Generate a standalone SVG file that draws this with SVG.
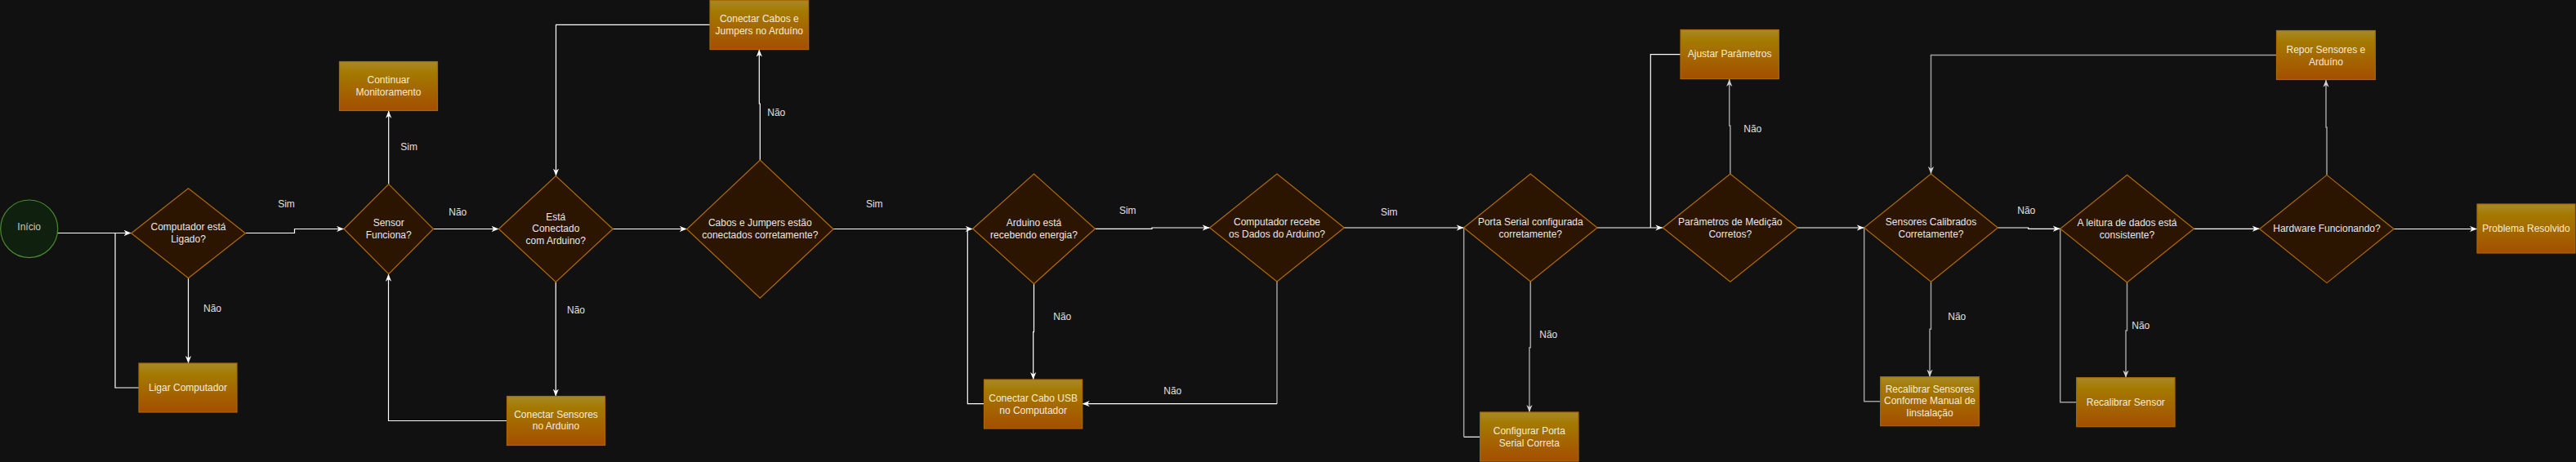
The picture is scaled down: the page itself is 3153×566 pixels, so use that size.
<svg xmlns="http://www.w3.org/2000/svg" width="3153" height="566" viewBox="0 0 3153 566">
<style>
text{font-family:"Liberation Sans",Arial,Helvetica,sans-serif;font-size:12px;text-anchor:middle}
.dt{fill:#e8e8e8}
.rt{fill:#f6ecd6}
.lb{fill:#e0e0e0}
.dm{fill:#2b1400;stroke:#b36b00;stroke-width:1.2}
.bx{fill:url(#g);stroke:#a86a00;stroke-width:1.2}
.w{fill:none;stroke:#ffffff;stroke-width:1.2}
.gr{fill:none;stroke:#a0a0a0;stroke-width:1.5}
.aw{marker-end:url(#aw)}
.ag{marker-end:url(#ag)}
</style>
<defs>
<linearGradient id="g" x1="0" y1="0" x2="0" y2="1">
<stop offset="0" stop-color="#a8892a"/>
<stop offset="0.22" stop-color="#a47a00"/>
<stop offset="1" stop-color="#a44e00"/>
</linearGradient>
<marker id="aw" viewBox="0 0 10 8" refX="10" refY="4" markerWidth="9" markerHeight="8" markerUnits="userSpaceOnUse" orient="auto">
<path d="M0,0 L10,4 L0,8 L3,4 Z" fill="#ffffff"/>
</marker>
<marker id="ag" viewBox="0 0 10 8" refX="10" refY="4" markerWidth="9" markerHeight="8" markerUnits="userSpaceOnUse" orient="auto">
<path d="M0,0 L10,4 L0,8 L3,4 Z" fill="#d0d0d0"/>
</marker>
</defs>
<rect x="0" y="0" width="3153" height="566" fill="#111111"/>

<g id="connectors">
<path class="w aw" d="M60,285.5 H160.5"/>
<path class="w aw" d="M230.5,340.7 V445"/>
<path class="w" d="M170,475 H141 V285.5"/>
<path class="w aw" d="M300.4,285.5 H360.5 V280.5 H421"/>
<path class="w aw" d="M475.7,225.5 V135.7"/>
<path class="w aw" d="M530.4,280.5 H610.5"/>
<path class="w aw" d="M680.3,345.5 V485.5"/>
<path class="w aw" d="M620.5,515.5 H475.5 V335.7"/>
<path class="w aw" d="M750.1,280.5 H840.7"/>
<path class="w aw" d="M930.3,196 V127 H929.3 V60.6"/>
<path class="w aw" d="M869,30.3 H680.5 V215.5"/>
<path class="w aw" d="M1020,280.5 H1190.7"/>
<path class="w" d="M1204.5,494.7 H1184.3 V280.5"/>
<path class="w aw" d="M1340.3,280.3 H1410 V279 H1480.7"/>
<path class="w aw" d="M1265.5,347.7 V406.7 H1264.7 V465"/>
<path class="gr" d="M1563,345 V494.7"/>
<path class="w aw" d="M1563,494.7 H1324.7"/>
<path class="w aw" d="M1645.3,279 H1791.7"/>
<path class="gr ag" d="M1873.3,345 V425.7 H1872 V505"/>
<path class="w" d="M1811.7,535.3 H1791.7"/>
<path class="gr ag" d="M1791.7,535.3 V279 H1791.5"/>
<path class="w aw" d="M1955,279 H2035.3"/>
<path class="gr ag" d="M2117.8,213 V154 H2116.7 V97"/>
<path class="w" d="M2057,66.7 H2020.3 V279"/>
<path class="w aw" d="M2200.3,279 H2281.7"/>
<path class="gr ag" d="M2363.5,345.3 V403.3 H2362 V461.7"/>
<path class="gr ag" d="M2301.7,491.7 H2281.7 V279 H2281.5"/>
<path class="w aw" d="M2445.3,279 H2482.7 V280.3 H2521.7"/>
<path class="gr ag" d="M2603.5,346 V405 H2602 V462.7"/>
<path class="gr ag" d="M2541.7,492.7 H2521.7 V280.3 H2521.5"/>
<path class="w aw" d="M2685.3,280.3 H2765.7"/>
<path class="gr ag" d="M2848,214.4 V156 H2847 V97.8"/>
<path class="gr ag" d="M2786.3,67.5 H2363.5 V213"/>
<path class="w aw" d="M2930,280.5 H3032"/>
<text class="lb" x="260" y="382">Não</text>
<text class="lb" x="350.5" y="253.5">Sim</text>
<text class="lb" x="500.6" y="183.5">Sim</text>
<text class="lb" x="560.3" y="263.5">Não</text>
<text class="lb" x="705" y="383.5">Não</text>
<text class="lb" x="950.3" y="141.5">Não</text>
<text class="lb" x="1070.3" y="253.5">Sim</text>
<text class="lb" x="1380.3" y="261.7">Sim</text>
<text class="lb" x="1300.3" y="391.7">Não</text>
<text class="lb" x="1435.3" y="483.3">Não</text>
<text class="lb" x="1700.3" y="263.7">Sim</text>
<text class="lb" x="1895.3" y="413.7">Não</text>
<text class="lb" x="2145.3" y="161.7">Não</text>
<text class="lb" x="2395.3" y="391.7">Não</text>
<text class="lb" x="2480.3" y="261.7">Não</text>
<text class="lb" x="2620.3" y="402.7">Não</text>
</g>

<g id="inicio">
<ellipse cx="35.7" cy="280.3" rx="35" ry="35.3" fill="#0f200f" stroke="#4c8a2c" stroke-width="1.2"/>
<text x="35.7" y="282" fill="#c8c8c8">Início</text>
</g>
<g id="computador-ligado">
<polygon class="dm" points="160.7,285.7 230.5,230.7 300.4,285.7 230.5,340.7"/>
<text class="dt" x="230.5" y="282">Computador está</text>
<text class="dt" x="230.5" y="297">Ligado?</text>
</g>
<g id="ligar-computador">
<rect class="bx" x="170" y="445" width="120" height="60"/>
<text class="rt" x="230" y="479">Ligar Computador</text>
</g>
<g id="sensor-funciona">
<polygon class="dm" points="421,280.5 475.7,225.5 530.4,280.5 475.7,335.7"/>
<text class="dt" x="475.7" y="277">Sensor</text>
<text class="dt" x="475.7" y="292">Funciona?</text>
</g>
<g id="continuar-monitoramento">
<rect class="bx" x="415.5" y="75.5" width="120" height="60"/>
<text class="rt" x="475.5" y="102">Continuar</text>
<text class="rt" x="475.5" y="117">Monitoramento</text>
</g>
<g id="esta-conectado">
<polygon class="dm" points="610.5,280.5 680.3,215.5 750.1,280.5 680.3,345.5"/>
<text class="dt" x="680.3" y="269.5">Está</text>
<text class="dt" x="680.3" y="284">Conectado</text>
<text class="dt" x="680.3" y="298.5">com Arduino?</text>
</g>
<g id="conectar-sensores">
<rect class="bx" x="620.5" y="485.5" width="120" height="60"/>
<text class="rt" x="680.5" y="511.6">Conectar Sensores</text>
<text class="rt" x="680.5" y="526.4">no Arduino</text>
</g>
<g id="cabos-jumpers">
<polygon class="dm" points="840.7,280.7 930.3,196 1020,280.7 930.3,365.3"/>
<text class="dt" x="930.3" y="277">Cabos e Jumpers estão</text>
<text class="dt" x="930.3" y="292">conectados corretamente?</text>
</g>
<g id="conectar-cabos">
<rect class="bx" x="869" y="0.5" width="120.7" height="60"/>
<text class="rt" x="929.3" y="26.5">Conectar Cabos e</text>
<text class="rt" x="929.3" y="41.5">Jumpers no Arduíno</text>
</g>
<g id="arduino-energia">
<polygon class="dm" points="1190.7,280.3 1265.5,213 1340.3,280.3 1265.5,347.7"/>
<text class="dt" x="1265.5" y="277">Arduino está</text>
<text class="dt" x="1265.5" y="292">recebendo energia?</text>
</g>
<g id="conectar-usb">
<rect class="bx" x="1204.5" y="465" width="120.2" height="60"/>
<text class="rt" x="1264.6" y="491.5">Conectar Cabo USB</text>
<text class="rt" x="1264.6" y="506.5">no Computador</text>
</g>
<g id="computador-recebe">
<polygon class="dm" points="1480.7,279 1563,213 1645.3,279 1563,345"/>
<text class="dt" x="1563" y="276">Computador recebe</text>
<text class="dt" x="1563" y="291">os Dados do Arduino?</text>
</g>
<g id="porta-serial">
<polygon class="dm" points="1791.7,279 1873.3,213 1955,279 1873.3,345"/>
<text class="dt" x="1873.3" y="276">Porta Serial configurada</text>
<text class="dt" x="1873.3" y="291">corretamente?</text>
</g>
<g id="configurar-porta">
<rect class="bx" x="1811.7" y="505" width="120.3" height="60"/>
<text class="rt" x="1871.8" y="532">Configurar Porta</text>
<text class="rt" x="1871.8" y="547">Serial Correta</text>
</g>
<g id="parametros">
<polygon class="dm" points="2035.3,279 2117.8,213 2200.3,279 2117.8,345.3"/>
<text class="dt" x="2117.8" y="276">Parâmetros de Medição</text>
<text class="dt" x="2117.8" y="291">Corretos?</text>
</g>
<g id="ajustar-parametros">
<rect class="bx" x="2057" y="36.5" width="120.3" height="60"/>
<text class="rt" x="2117.1" y="70">Ajustar Parâmetros</text>
</g>
<g id="sensores-calibrados">
<polygon class="dm" points="2281.7,279 2363.5,213 2445.3,279 2363.5,345.3"/>
<text class="dt" x="2363.5" y="276">Sensores Calibrados</text>
<text class="dt" x="2363.5" y="291">Corretamente?</text>
</g>
<g id="recalibrar-sensores">
<rect class="bx" x="2301.7" y="461.7" width="120.6" height="60"/>
<text class="rt" x="2362" y="481">Recalibrar Sensores</text>
<text class="rt" x="2362" y="495">Conforme Manual de</text>
<text class="rt" x="2362" y="509.5">Iinstalação</text>
</g>
<g id="leitura-dados">
<polygon class="dm" points="2521.7,280.3 2603.5,214.3 2685.3,280.3 2603.5,346"/>
<text class="dt" x="2603.5" y="277">A leitura de dados está</text>
<text class="dt" x="2603.5" y="292">consistente?</text>
</g>
<g id="recalibrar-sensor">
<rect class="bx" x="2541.7" y="462.7" width="120.3" height="60"/>
<text class="rt" x="2601.8" y="497">Recalibrar Sensor</text>
</g>
<g id="hardware-funcionando">
<polygon class="dm" points="2765.7,280.5 2848,214.4 2930,280.5 2848,346.6"/>
<text class="dt" x="2848" y="284">Hardware Funcionando?</text>
</g>
<g id="repor-sensores">
<rect class="bx" x="2786.5" y="37.5" width="120.8" height="60"/>
<text class="rt" x="2846.9" y="65">Repor Sensores e</text>
<text class="rt" x="2846.9" y="79.5">Arduíno</text>
</g>
<g id="problema-resolvido">
<rect class="bx" x="3032" y="250" width="120" height="60"/>
<text class="rt" x="3092" y="284">Problema Resolvido</text>
</g>
</svg>
